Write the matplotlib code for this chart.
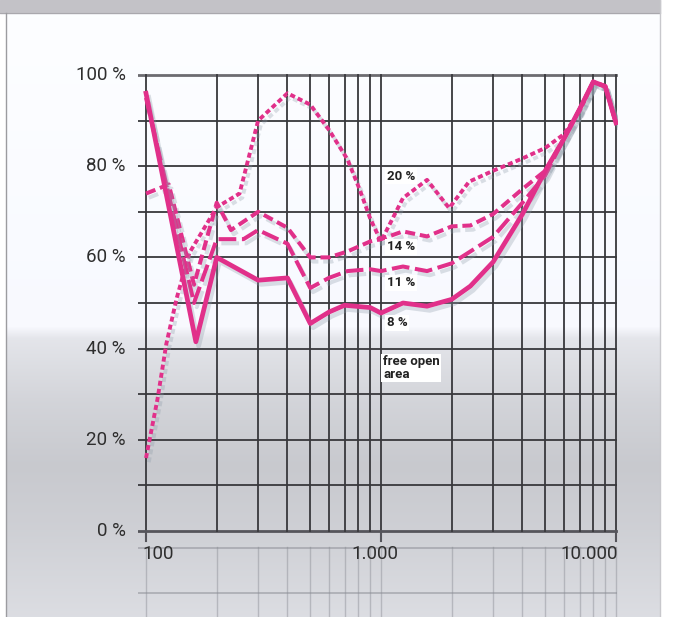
import numpy as np
import matplotlib
matplotlib.use("Agg")
import matplotlib.pyplot as plt
import matplotlib.patheffects as pe
from matplotlib.patches import Rectangle

# frequency (Hz) / absorption (%)
f8 = [100, 163, 200, 300, 400, 500, 600, 700, 900, 1000, 1240, 1570, 2000, 2400,
      3000, 4000, 5000, 6000, 7000, 8000, 9000, 10000]
v8 = [96, 41.5, 60, 55, 55.5, 45.5, 48, 49.5, 49, 47.8, 50, 49.3, 50.8, 53.7,
      59, 69.5, 79, 86, 92.5, 98.5, 97.5, 89.5]

f11 = [100, 160, 200, 260, 300, 400, 500, 600, 720, 900, 1000, 1240, 1570, 2000,
       2400, 3000, 4000, 5000, 6000, 7000, 8000, 9000, 10000]
v11 = [95, 50, 64, 64, 66, 63, 53.3, 55.5, 57, 57.4, 57, 58, 57, 58.7,
       61.3, 64.5, 72, 78, 86, 92.5, 98.5, 97.5, 89.5]

f14 = [100, 125, 160, 200, 230, 300, 400, 500, 600, 720, 900, 1000, 1240, 1570,
       2000, 2400, 3000, 4000, 5000, 6000, 7000, 8000, 9000, 10000]
v14 = [74, 76, 54, 72, 66, 70, 66.5, 60, 60, 61.3, 63.5, 64, 65.7, 64.6,
       66.8, 67, 69.5, 75, 79, 86, 92.5, 98.5, 97.5, 89.5]

f20 = [100, 112, 122, 135, 153, 175, 200, 250, 300, 400, 500, 600, 720, 810, 900,
       1000, 1240, 1570, 1950, 2370, 3000, 4000, 5000, 6000, 7000, 8000, 9000, 10000]
v20 = [16, 29, 41, 51, 61, 66, 71, 74, 90, 96, 93.5, 88, 81.5, 75, 68.5,
       63.5, 73, 77, 70.8, 76.6, 79, 81.7, 84, 87, 92, 98.5, 97.5, 89.5]

y_ticks = [0, 20, 40, 60, 80, 100]
y_labels = ["0 %", "20 %", "40 %", "60 %", "80 %", "100 %"]
x_ticks = [100, 1000, 10000]
x_labels = ["100", "1.000", "10.000"]
grid_x = [100, 200, 300, 400, 500, 600, 700, 800, 900, 1000, 2000, 3000, 4000,
          5000, 6000, 7000, 8000, 9000, 10000]

W, H = 678, 617
pink = "#e1308a"

fig = plt.figure(figsize=(W / 100, H / 100), dpi=100)
fig.patch.set_facecolor("white")

# background gradient
bg = fig.add_axes([0, 0, 1, 1], zorder=-5)
bg.set_xlim(0, W)
bg.set_ylim(H, 0)
bg.axis("off")
ys = np.arange(H)
stops_y = [0, 326, 338, 400, 465, 525, 617]
stops_c = [253, 248, 228, 211, 200, 206, 220]
g = np.interp(ys, stops_y, stops_c) / 255.0
img = np.zeros((H, 1, 3))
img[:, 0, 0] = g
img[:, 0, 1] = g + 0.005
img[:, 0, 2] = g + 0.025
img = np.clip(img, 0, 1)
bg.imshow(img, extent=[6, 660, H, 0], aspect="auto")
bg.add_patch(Rectangle((0, 0), 660, 13, color="#c3c2c7"))
bg.plot([0, 660], [13, 13], color="#a9a8ad", lw=0.8)
bg.plot([6, 6], [13, H], color="#9c9ca0", lw=1.0)
bg.plot([660, 660], [0, H], color="#c8c8cc", lw=1.0)

# main axes, placed in pixels
px_left, px_right = 138, 618
px_top, px_bot = 70, 617
ppd = 235.0      # pixels per decade
ppp = 4.56       # pixels per percent
ax = fig.add_axes([px_left / W, 1 - px_bot / H, (px_right - px_left) / W,
                   (px_bot - px_top) / H])
ax.set_xscale("log")
ax.set_xlim(100 * 10 ** ((px_left - 146) / ppd), 100 * 10 ** ((px_right - 146) / ppd))
ax.set_ylim(-(px_bot - 531) / ppp, 100 + (75 - px_top) / ppp)
ax.axis("off")
ax.patch.set_alpha(0)

xmin = ax.get_xlim()[0]
grid_c = "#38383c"
for y in range(10, 100, 10):
    ax.plot([xmin, 10000], [y, y], color=grid_c, lw=1.3, zorder=1)
ax.plot([xmin, 10000], [100, 100], color="#6c6c70", lw=2.0, zorder=1)
ax.plot([xmin, 10000], [0, 0], color="#55555b", lw=2.0, zorder=1)
for x in grid_x:
    ax.plot([x, x], [0, 100], color=grid_c, lw=1.3, zorder=1)
for x in x_ticks:
    ax.plot([x, x], [-2.2, 0], color="#55555b", lw=1.5, zorder=1)

# faint mirrored grid below the axis
for x in grid_x:
    ax.plot([x, x], [-3.6, -19], color="#8a8c94", lw=1.0, alpha=0.45, zorder=1)
ax.plot([xmin, 10000], [-3.7, -3.7], color="#8a8c94", lw=1.4, alpha=0.5, zorder=1)
ax.plot([xmin, 10000], [-13.6, -13.6], color="#8a8c94", lw=1.4, alpha=0.5, zorder=1)

shadow = [pe.SimpleLineShadow(offset=(2, -3), shadow_color="#8c9aa8", alpha=0.3),
          pe.Normal()]
ax.plot(f20, v20, color=pink, lw=2.8, dashes=(1.3, 0.8), zorder=3,
        path_effects=shadow)
ax.plot(f14, v14, color=pink, lw=2.9, dashes=(2.5, 1.2), zorder=3,
        path_effects=shadow)
ax.plot(f11, v11, color=pink, lw=2.9, dashes=(4.4, 1.4), zorder=3,
        path_effects=shadow)
ax.plot(f8, v8, color=pink, lw=3.4, zorder=4, path_effects=shadow,
        solid_joinstyle="round")

fam = ["Roboto", "DejaVu Sans"]
for y, lab in zip(y_ticks, y_labels):
    ax.text(100 * 10 ** ((126 - 146) / ppd), y, lab, ha="right", va="center",
            fontsize=13.5, color="#2e2e2e", family=fam)
ax.text(100 * 10 ** (-4 / ppd), -(554 - 531) / ppp, x_labels[0], ha="left",
        va="center", fontsize=13.5, color="#2e2e2e", family=fam)
ax.text(1000 * 10 ** (-6 / ppd), -(554 - 531) / ppp, x_labels[1], ha="center",
        va="center", fontsize=13.5, color="#2e2e2e", family=fam)
ax.text(10000 * 10 ** (2 / ppd), -(554 - 531) / ppp, x_labels[2], ha="right",
        va="center", fontsize=13.5, color="#2e2e2e", family=fam)

box = dict(facecolor="white", edgecolor="none", pad=1.2)
ann_x = 100 * 10 ** ((387 - 146) / ppd)
for lab, py in [("20 %", 176), ("14 %", 247), ("11 %", 283), ("8 %", 323)]:
    ax.text(ann_x, (531 - py) / ppp, lab, ha="left", va="center", fontsize=9.5,
            fontweight="bold", color="#222222", family=fam, bbox=box, zorder=5)
ax.text(100 * 10 ** ((383 - 146) / ppd), (531 - 368) / ppp, "free open\narea",
        ha="left", va="center", fontsize=9.5, fontweight="bold", color="#222222",
        family=fam, linespacing=0.95, bbox=box, zorder=5)

fig.savefig("out.png", dpi=100)
